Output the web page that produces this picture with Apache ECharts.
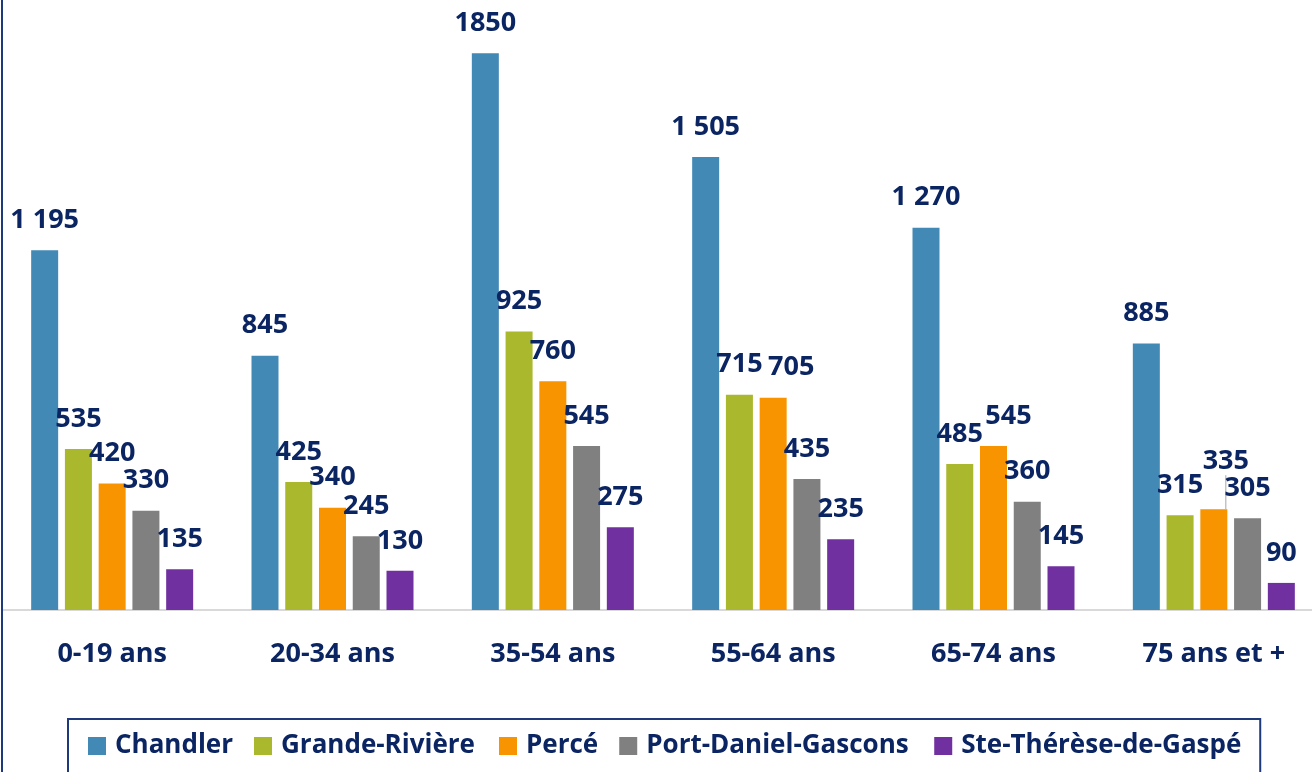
<!DOCTYPE html>
<html>
<head>
<meta charset="utf-8">
<script src="https://cdn.jsdelivr.net/npm/echarts@6/dist/echarts.min.js"></script>
<style>
  html, body { margin: 0; padding: 0; background: #fff; overflow: hidden; }
  /* un peu plus large que la fenêtre : la dernière catégorie est coupée à droite */
  #chart { width: 1330px; height: 772px; }
</style>
</head>
<body>
<div id="chart"></div>
<script>
// données
const categories = ['0-19 ans', '20-34 ans', '35-54 ans', '55-64 ans', '65-74 ans', '75 ans et +']
const chandler = [1195, 845, 1850, 1505, 1270, 885]
const grandeRiviere = [535, 425, 925, 715, 485, 315]
const perce = [420, 340, 760, 705, 545, 335]
const portDaniel = [330, 245, 545, 435, 360, 305]
const steTherese = [135, 130, 275, 235, 145, 90]
const noSpaceLabels = [1850] // écrit sans espace dans l'original

const navy = '#0B2562'
const font = 'Open Sans'

// 1 195, 1 505 ...
function fmt (p) {
  const v = p.value
  if (noSpaceLabels.indexOf(v) >= 0) return String(v)
  return String(v).replace(/\B(?=(\d{3})+(?!\d))/g, ' ')
}

function makeSeries (name, data, color) {
  return {
    name: name,
    type: 'bar',
    data: data,
    barWidth: 27,
    barGap: '25%',
    itemStyle: { color: color },
    label: {
      show: true,
      position: 'top',
      distance: 16,
      formatter: fmt,
      color: navy,
      fontFamily: font,
      fontWeight: 'bold',
      fontSize: 27,
      lineHeight: 28
    }
  }
}

// 335 (75 ans et +) : étiquette déplacée avec une ligne de rappel
const perceData = perce.map((v, i) => i === 5
  ? { value: v, labelLine: { show: true, lineStyle: { color: '#A6A6A6', width: 1 } } }
  : v)

const series = [
  makeSeries('Chandler', chandler, '#4389B6'),
  makeSeries('Grande-Rivière', grandeRiviere, '#A9B82C'),
  makeSeries('Percé', perceData, '#F79400'),
  makeSeries('Port-Daniel-Gascons', portDaniel, '#808080'),
  makeSeries('Ste-Thérèse-de-Gaspé', steTherese, '#7030A0')
]
// étiquettes Percé décalées pour ne pas chevaucher les voisines
series[2].labelLayout = function (p) {
  if (p.dataIndex === 3) return { dx: 18 }
  if (p.dataIndex === 4) return { dx: 15 }
  if (p.dataIndex === 5) return { dx: 12, dy: -18 }
}

// largeur du texte de chaque entrée de légende
const legendWidths = [117, 197, 71, 267, 289]

const option = {
  animation: false,
  grid: {
    left: 2,
    top: 8,
    width: 1322,
    height: 602
  },
  xAxis: {
    type: 'category',
    data: categories,
    axisLine: { show: true, lineStyle: { color: '#D9D9D9', width: 2 } },
    axisTick: { show: false },
    axisLabel: {
      color: navy,
      fontFamily: font,
      fontWeight: 'bold',
      fontSize: 27,
      lineHeight: 27,
      margin: 31
    }
  },
  yAxis: {
    type: 'value',
    min: 0,
    max: 2000,
    show: false
  },
  legend: {
    left: 68,
    top: 719,
    padding: [13, 10, 40, 20],
    borderColor: '#1F3A7A',
    borderWidth: 2,
    itemWidth: 18,
    itemHeight: 18,
    itemGap: 21,
    icon: 'rect',
    data: series.map((s, i) => ({
      name: s.name,
      textStyle: { width: legendWidths[i], overflow: 'none' }
    })),
    textStyle: {
      color: navy,
      fontFamily: font,
      fontWeight: 'bold',
      fontSize: 26,
      lineHeight: 28,
      padding: [0, 0, 0, 4]
    }
  },
  // bordure gauche du cadre
  graphic: [{
    type: 'line',
    shape: { x1: 2, y1: 0, x2: 2, y2: 772 },
    style: { stroke: '#1F3A7A', lineWidth: 2 },
    z: 100
  }],
  series: series
}

const chart = echarts.init(document.getElementById('chart'))
chart.setOption(option)
</script>
</body>
</html>
